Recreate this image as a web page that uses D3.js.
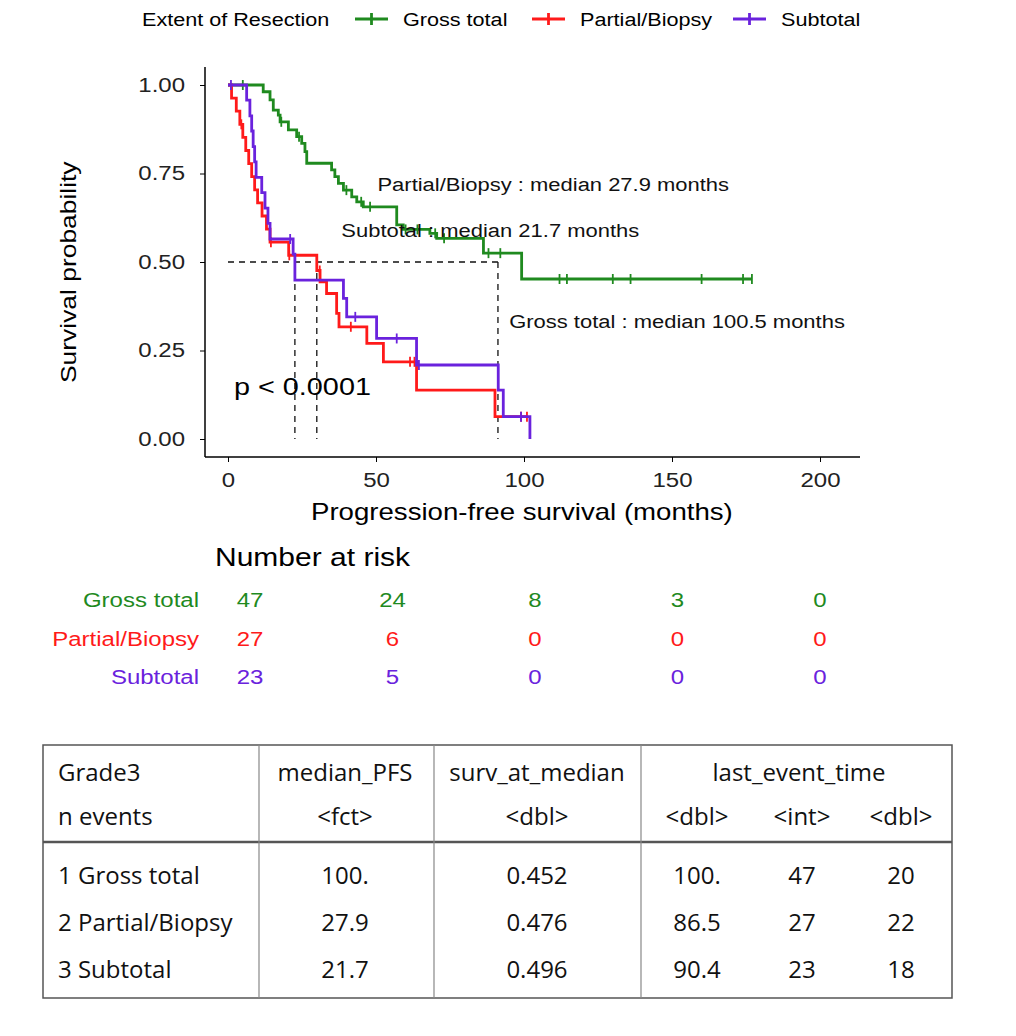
<!DOCTYPE html>
<html>
<head>
<meta charset="utf-8">
<script src="https://cdn.jsdelivr.net/npm/d3@7"></script>
<style>
  body { margin: 0; background: #fff; }
  text { font-family: "Liberation Sans", Arial, sans-serif; }
  .tbl text { font-family: "Open Sans", "Noto Sans", sans-serif; }
</style>
</head>
<body>
<svg id="chart" width="1016" height="1036"></svg>
<script>
// ---- data ----
const groups = ["Gross total", "Partial/Biopsy", "Subtotal"];
const colors = ["#1f8a1f", "#ff1a1a", "#6a22dd"];

// step curves: [time, survival after the drop]
const grossSteps = [[0, 1], [11.9, 0.981], [14.2, 0.958], [15.3, 0.929], [17, 0.915], [17.6, 0.896],
  [20.4, 0.873], [23.2, 0.854], [24.9, 0.835], [26, 0.812], [26.6, 0.779], [35, 0.760], [36.1, 0.741],
  [37.3, 0.722], [39, 0.703], [41.8, 0.684], [43.5, 0.670], [45.7, 0.656], [57, 0.605], [59.2, 0.592],
  [68.2, 0.581], [70.5, 0.567], [86.3, 0.525], [99.2, 0.452]];
const grossEnd = 177;
const grossCensor = [5, 18, 24, 40, 45, 48, 60, 64, 70, 73, 88, 92, 112, 114.5, 130, 136, 160, 174, 177];

const partialSteps = [[0, 1], [1.2, 0.963], [2.8, 0.926], [4, 0.889], [5, 0.852], [6, 0.815], [7, 0.778],
  [8, 0.741], [9, 0.704], [10, 0.667], [11.5, 0.630], [13, 0.593], [14.2, 0.556], [20.5, 0.519],
  [30, 0.476], [31.1, 0.444], [33.3, 0.411], [36.7, 0.355], [37.5, 0.317], [46.9, 0.270],
  [52.5, 0.218], [63.7, 0.138], [90.2, 0.063]];
const partialEnd = 101;
const partialCensor = [4.5, 14.5, 20.7, 31, 41.5, 61.5, 63, 99, 101];

const subtotalSteps = [[0, 1], [6.3, 0.957], [7.4, 0.913], [8, 0.870], [8.5, 0.826], [9, 0.783],
  [9.5, 0.739], [11.4, 0.696], [12.5, 0.652], [13.5, 0.609], [14.2, 0.565], [22, 0.522], [22.6, 0.449],
  [39, 0.397], [40.1, 0.345], [50.2, 0.284], [63.7, 0.209], [91.3, 0.138], [93, 0.063], [102, 0]];
const subtotalEnd = 102;
const subtotalCensor = [1, 21, 43, 57, 64.5, 99];

const medianTimes = [22.6, 30, 91.2];
const annotations = [
  ["Partial/Biopsy : median 27.9 months", 50.5, 0.70],
  ["Subtotal : median 21.7 months", 38.3, 0.57],
  ["Gross total : median 100.5 months", 95, 0.313]
];

const riskTimes = [0, 50, 100, 150, 200];
const riskCounts = [[47, 24, 8, 3, 0], [27, 6, 0, 0, 0], [23, 5, 0, 0, 0]];

const xTicks = [0, 50, 100, 150, 200];
const yTicks = [0, 0.25, 0.5, 0.75, 1];

const tblHeader1 = ["Grade3", "median_PFS", "surv_at_median", "last_event_time"];
const tblHeader2 = ["n events", "<fct>", "<dbl>", "<dbl>", "<int>", "<dbl>"];
const tblRows = [
  ["1 Gross total", "100.", "0.452", "100.", "47", "20"],
  ["2 Partial/Biopsy", "27.9", "0.476", "86.5", "27", "22"],
  ["3 Subtotal", "21.7", "0.496", "90.4", "23", "18"]
];

// ---- chart ----
const svg = d3.select("#chart");
const x = d3.scaleLinear().domain([0, 200]).range([228, 820]);
const y = d3.scaleLinear().domain([0, 1]).range([439, 85]);

// the reference text is wider than its height suggests, so widen by a factor
function widen(sel, k) {
  sel.each(function () {
    const w = this.getComputedTextLength();
    d3.select(this).attr("textLength", w * k).attr("lengthAdjust", "spacingAndGlyphs");
  });
}
const K = 1.2;

// legend
const leg = svg.append("g").attr("font-size", 18);
leg.append("text").attr("x", 142).attr("y", 26).text("Extent of Resection");
const legX = [355, 532, 733];
groups.forEach((g, i) => {
  const lg = leg.append("g").attr("stroke", colors[i]).attr("stroke-width", 2.8);
  lg.append("line").attr("x1", legX[i]).attr("x2", legX[i] + 33).attr("y1", 19).attr("y2", 19);
  lg.append("line").attr("x1", legX[i] + 16.5).attr("x2", legX[i] + 16.5).attr("y1", 13).attr("y2", 25);
  leg.append("text").attr("x", legX[i] + 48).attr("y", 26).text(g);
});
widen(leg.selectAll("text"), K);

// axes
const xAxis = svg.append("g").attr("transform", "translate(0,457)")
  .call(d3.axisBottom(x).tickValues(xTicks).tickSize(5).tickSizeOuter(0));
xAxis.select(".domain").attr("d", "M205,0H860").attr("stroke-width", 1.5);
xAxis.selectAll("text").attr("font-size", 20).attr("fill", "#222").attr("dy", "1.1em");
const yAxis = svg.append("g").attr("transform", "translate(205,0)")
  .call(d3.axisLeft(y).tickValues(yTicks).tickFormat(d3.format(".2f")).tickSize(5).tickSizeOuter(0));
yAxis.select(".domain").attr("d", "M0,67V457").attr("stroke-width", 1.5);
yAxis.selectAll("text").attr("font-size", 20).attr("fill", "#222").attr("dx", "-0.6em");
widen(xAxis.selectAll("text"), K);
widen(yAxis.selectAll("text"), K);

const xt = svg.append("text").attr("x", 311).attr("y", 520)
  .attr("font-size", 24).text("Progression-free survival (months)");
widen(xt, 1.15);
const yt = svg.append("text").attr("transform", "translate(76,383) rotate(-90)")
  .attr("font-size", 22).text("Survival probability");
widen(yt, K);

// median dashed lines
const dash = svg.append("g").attr("stroke", "#111").attr("stroke-width", 1.3)
  .attr("stroke-dasharray", "6,5").attr("fill", "none");
dash.append("line").attr("x1", x(0)).attr("x2", x(d3.max(medianTimes))).attr("y1", y(0.5)).attr("y2", y(0.5));
medianTimes.forEach(t => dash.append("line").attr("x1", x(t)).attr("x2", x(t)).attr("y1", y(0.5)).attr("y2", y(0)));

// curves
const series = [
  [grossSteps, grossEnd, grossCensor],
  [partialSteps, partialEnd, partialCensor],
  [subtotalSteps, subtotalEnd, subtotalCensor]
];
function survAt(steps, t) {
  let s = 1;
  steps.forEach(d => { if (d[0] <= t) s = d[1]; });
  return s;
}
series.forEach(([steps, end, cens], i) => {
  const pts = steps.concat([[end, steps[steps.length - 1][1]]]);
  const line = d3.line().x(d => x(d[0])).y(d => y(d[1])).curve(d3.curveStepAfter);
  svg.append("path").attr("d", line(pts)).attr("fill", "none")
    .attr("stroke", colors[i]).attr("stroke-width", 2.8);
  svg.append("g").selectAll("line").data(cens).join("line")
    .attr("x1", d => x(d)).attr("x2", d => x(d))
    .attr("y1", d => y(survAt(steps, d)) - 5).attr("y2", d => y(survAt(steps, d)) + 5)
    .attr("stroke", colors[i]).attr("stroke-width", 1.8);
});

// annotations
const ann = svg.append("g").attr("font-size", 18).attr("fill", "#111");
annotations.forEach(([t, ax, ay]) => {
  ann.append("text").attr("x", x(ax)).attr("y", y(ay)).text(t);
});
widen(ann.selectAll("text"), 1.22);
const pv = svg.append("text").attr("x", 234).attr("y", 395).attr("font-size", 24).text("p < 0.0001");
widen(pv, K);

// risk table
const rx = d3.scaleLinear().domain([0, 200]).range([250, 820]);
const nr = svg.append("text").attr("x", 215).attr("y", 566).attr("font-size", 25).text("Number at risk");
widen(nr, K);
groups.forEach((g, i) => {
  const yy = 607 + i * 38.5;
  const lab = svg.append("text").attr("x", 199).attr("y", yy).attr("text-anchor", "end")
    .attr("font-size", 20).attr("fill", colors[i]).text(g);
  widen(lab, K);
  const nums = svg.append("g").selectAll("text").data(riskCounts[i]).join("text")
    .attr("x", (d, j) => rx(riskTimes[j])).attr("y", yy).attr("text-anchor", "middle")
    .attr("font-size", 20).attr("fill", colors[i]).text(d => d);
  widen(nums, K);
});

// summary table
const tbl = svg.append("g").attr("class", "tbl").attr("font-size", 24).attr("fill", "#111");
tbl.append("rect").attr("x", 43).attr("y", 745).attr("width", 909).attr("height", 253)
  .attr("fill", "none").attr("stroke", "#555").attr("stroke-width", 1.5);
tbl.append("line").attr("x1", 43).attr("x2", 952).attr("y1", 842).attr("y2", 842)
  .attr("stroke", "#555").attr("stroke-width", 2.5);
[259, 434, 641].forEach(cx => tbl.append("line").attr("x1", cx).attr("x2", cx)
  .attr("y1", 745).attr("y2", 998).attr("stroke", "#888").attr("stroke-width", 1.2));
const colX = [58, 345, 537, 697, 802, 901];
const h1X = [58, 345, 537, 799];
tblHeader1.forEach((t, j) => tbl.append("text").attr("x", h1X[j]).attr("y", 781)
  .attr("text-anchor", j === 0 ? "start" : "middle").text(t));
tblHeader2.forEach((t, j) => tbl.append("text").attr("x", colX[j]).attr("y", 825)
  .attr("text-anchor", j === 0 ? "start" : "middle").text(t));
tblRows.forEach((r, i) => r.forEach((t, j) => tbl.append("text").attr("x", colX[j])
  .attr("y", 884 + i * 47).attr("text-anchor", j === 0 ? "start" : "middle").text(t)));
</script>
</body>
</html>
